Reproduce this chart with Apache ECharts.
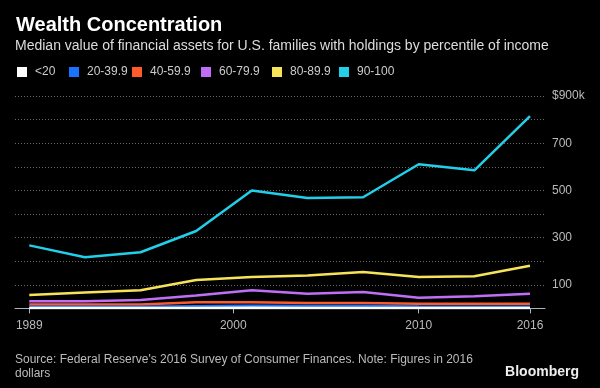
<!DOCTYPE html>
<html><head><meta charset="utf-8">
<script src="https://cdn.jsdelivr.net/npm/echarts@6/dist/echarts.min.js"></script>
<style>html,body{margin:0;padding:0;background:#000;}#c{width:600px;height:388px;}</style>
</head><body><div id="c"></div>
<script>
const years = [1989, 1992, 1995, 1998, 2001, 2004, 2007, 2010, 2013, 2016];
const seriesNames = ['<20', '20-39.9', '40-59.9', '60-79.9', '80-89.9', '90-100'];
const pLt20   = [1.5, 1.5, 1.5, 2, 2.5, 2, 2, 1.5, 1.5, 1.5];
const p20_40  = [7, 7, 7, 9, 11, 10, 10, 8, 7, 7];
const p40_60  = [17, 17, 17, 26, 26, 23, 23, 20, 20, 20];
const p60_80  = [30, 30, 36, 55, 77, 62, 69, 45, 52, 62];
const p80_90  = [57, 67, 77, 120, 133, 139, 154, 133, 136, 181];
const p90_100 = [267, 217, 238, 328, 500, 468, 471, 611, 585, 815];
const xTickLabels = [1989, 2000, 2010, 2016];
const yTickLabels = [100, 300, 500, 700, 900];

const colors = ['#ffffff', '#1a72ff', '#ff5a2a', '#c06ef5', '#f7e35a', '#22cfe9'];
const values = [pLt20, p20_40, p40_60, p60_80, p80_90, p90_100];
const legendLeft = [12, 64, 127, 196, 267, 334];
const FONT = "'Liberation Sans', Arial, sans-serif";

const chart = echarts.init(document.getElementById('c'), null, {renderer: 'canvas'});
chart.setOption({
  backgroundColor: '#000',
  animation: false,
  title: [
    {text: 'Wealth Concentration', left: 16, top: 15, padding: 0,
     textStyle: {color: '#fff', fontSize: 20, fontWeight: 'bold', fontFamily: FONT}},
    {text: 'Median value of financial assets for U.S. families with holdings by percentile of income', left: 15, top: 39, padding: 0,
     textStyle: {color: '#ddd', fontSize: 14, fontWeight: 'normal', fontFamily: FONT}},
    {text: "Source: Federal Reserve's 2016 Survey of Consumer Finances. Note: Figures in 2016\ndollars", left: 15, top: 353, padding: 0,
     textStyle: {color: '#bbb', fontSize: 12, fontWeight: 'normal', lineHeight: 14, fontFamily: FONT}},
    {text: 'Bloomberg', right: 21, top: 365, padding: 0,
     textStyle: {color: '#eee', fontSize: 14, fontWeight: 'bold', fontFamily: FONT}}
  ],
  legend: seriesNames.map((n, i) => ({
    data: [n], left: legendLeft[i], top: 61, icon: 'rect', itemWidth: 10, itemHeight: 10, itemGap: 0,
    textStyle: {color: '#ccc', fontSize: 12, fontFamily: FONT, padding: [0, 0, 0, 3]},
    selectedMode: false
  })),
  grid: {left: 15, right: 55, top: 96, bottom: 79.6, containLabel: false},
  xAxis: {
    type: 'value', min: 1988.23, max: 2016.81,
    axisLine: {show: true, lineStyle: {color: '#aab4c0', width: 1}},
    axisTick: {show: true, customValues: xTickLabels, length: 5, lineStyle: {color: '#aab4c0'}},
    axisLabel: {show: true, customValues: xTickLabels, color: '#bbb', fontSize: 12, fontFamily: FONT, margin: 11,
      formatter: v => String(v)},
    splitLine: {show: false}
  },
  yAxis: {
    type: 'value', position: 'right', min: 0, max: 900, interval: 100,
    axisLine: {show: false}, axisTick: {show: false},
    axisLabel: {color: '#bbb', fontSize: 12, fontFamily: FONT, margin: 7, align: 'left',
      formatter: v => yTickLabels.indexOf(v) < 0 ? '' : (v === 900 ? '$900k' : String(v))},
    splitLine: {show: true, lineStyle: {color: '#6a6a6a', type: [1, 2], width: 1}}
  },
  series: seriesNames.map((n, i) => ({
    name: n, type: 'line', symbol: 'none', color: colors[i],
    lineStyle: {width: 2.5, color: colors[i]},
    z: 10 - i,
    data: years.map((y, j) => [y, values[i][j]])
  }))
});
</script></body></html>
